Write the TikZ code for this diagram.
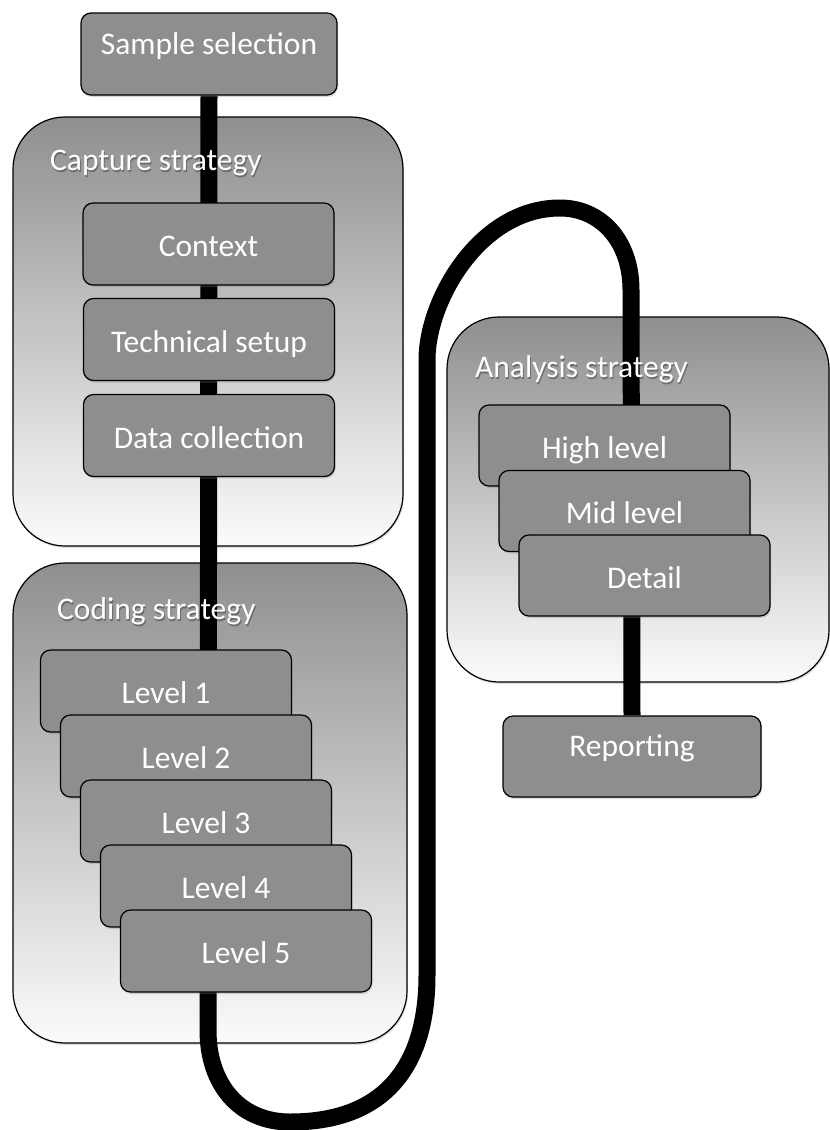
\documentclass[tikz,border=0pt]{standalone}
\usepackage{fontspec}
\setmainfont{Carlito}
\usetikzlibrary{shadows}

\pgfdeclarelayer{back}
\pgfdeclarelayer{wire}
\pgfsetlayers{back,wire,main}

\definecolor{boxgray}{RGB}{142,142,142}
\definecolor{panetop}{RGB}{143,143,143}
\definecolor{panebottom}{RGB}{251,251,251}

\tikzset{
  labelfont/.style={font=\fontsize{31.5}{36}\selectfont},
  stepbox/.style={draw=black, line width=1.2pt, fill=boxgray,
    rounded corners=10pt, text=white, labelfont,
    minimum width=251pt, minimum height=82pt, inner sep=0pt,
    text height=25pt, text depth=0pt,
    drop shadow={shadow xshift=1pt, shadow yshift=-2pt, opacity=0.3}},
  endbox/.style={stepbox, text height=11pt, text depth=11pt},
  pane/.style={draw=black, line width=1.2pt, rounded corners=52pt,
    top color=panetop, bottom color=panebottom, inner sep=0pt,
    drop shadow={shadow xshift=1pt, shadow yshift=-2pt, opacity=0.25}},
  panetitle/.style={anchor=base west, inner sep=0pt, text=white, labelfont},
  panetitleshade/.style={panetitle, text=black, opacity=0.3},
  wire/.style={line width=17pt, draw=black, line join=round}
}

\begin{document}
\begin{tikzpicture}[x=1pt, y=-1pt]
  \useasboundingbox (0,0) rectangle (830,1130);

  % grouping panels
  \begin{pgfonlayer}{back}
    \node[pane, minimum width=390pt, minimum height=429pt] (capture) at (208,331.5) {};
    \node[pane, minimum width=394pt, minimum height=480pt] (coding) at (210,803) {};
    \node[pane, minimum width=382pt, minimum height=365pt] (analysis) at (638,499.5) {};
  \end{pgfonlayer}

  % panel titles with a soft shadow beneath
  \node[panetitleshade] (captureshade) at (51,172) {Capture strategy};
  \node[panetitle] (capturetitle) at (50,170) {Capture strategy};
  \node[panetitleshade] (codingshade) at (58,621) {Coding strategy};
  \node[panetitle] (codingtitle) at (57,619) {Coding strategy};
  \node[panetitleshade] (analysisshade) at (476,379) {Analysis strategy};
  \node[panetitle] (analysistitle) at (475,377) {Analysis strategy};

  % process steps
  \node[endbox, minimum width=256pt] (sample) at (209,54) {Sample selection};
  \node[stepbox] (context) at (208.5,244) {Context};
  \node[stepbox] (technical) at (209,339.5) {Technical setup};
  \node[stepbox] (datacoll) at (209,435.5) {Data collection};

  \node[stepbox] (lev1) at (166,691) {Level 1};
  \node[stepbox] (lev2) at (186,756) {Level 2};
  \node[stepbox] (lev3) at (206,821) {Level 3};
  \node[stepbox] (lev4) at (226,886) {Level 4};
  \node[stepbox] (lev5) at (246,951) {Level 5};

  \node[stepbox, minimum height=81pt] (high) at (604.5,445.5) {High level};
  \node[stepbox, minimum height=81pt] (mid) at (624.5,511) {Mid level};
  \node[stepbox, minimum height=81pt] (detail) at (644.5,575.5) {Detail};

  \node[endbox, minimum width=258pt, minimum height=81pt] (reporting) at (632,756.5) {Reporting};

  % the single thread running through every stage
  \coordinate (down) at (208,1030);
  \coordinate (loopbottom) at (290,1122);
  \coordinate (rise) at (427,975);
  \coordinate (climb) at (427,360);
  \coordinate (crest) at (560,208);
  \coordinate (descend) at (631,290);

  \begin{pgfonlayer}{wire}
    \draw[wire] (sample.south) -- (down)
      .. controls (208,1085) and (240,1122) .. (loopbottom)
      .. controls (390,1122) and (427,1060) .. (rise)
      -- (climb)
      .. controls (427,300) and (480,208) .. (crest)
      .. controls (600,208) and (631,240) .. (descend)
      -- (reporting.north);
  \end{pgfonlayer}
\end{tikzpicture}
\end{document}
